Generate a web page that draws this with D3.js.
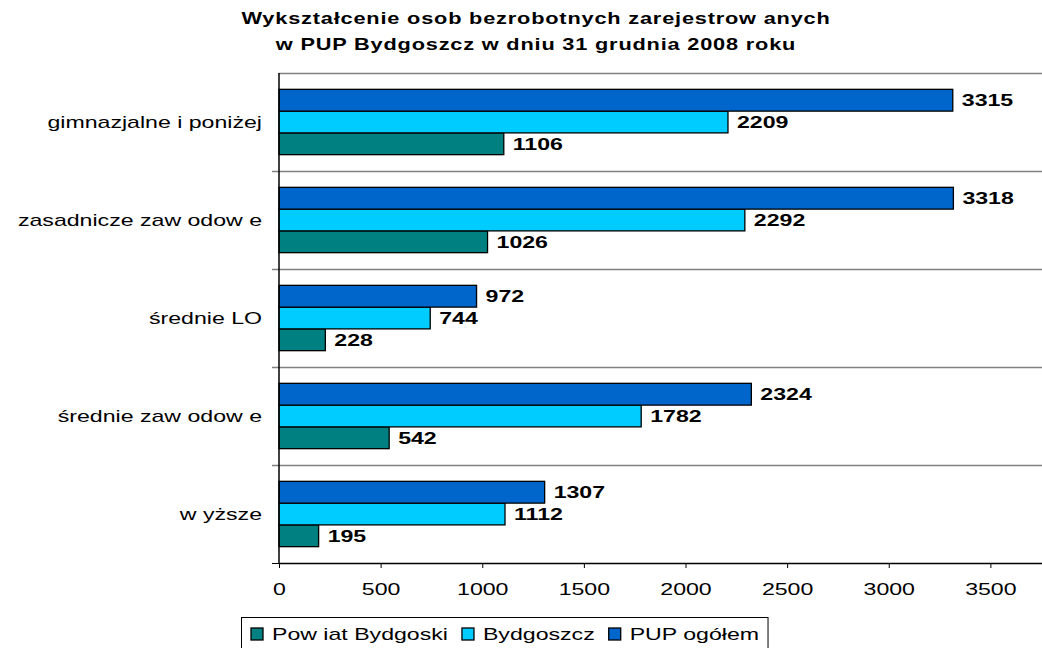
<!DOCTYPE html>
<html lang="pl">
<head>
    <meta charset="UTF-8">
    <title>Wykształcenie osób bezrobotnych</title>
    <script src="https://d3js.org/d3.v7.min.js"></script>
    <style>
        body { margin: 0; padding: 0; background: #ffffff; overflow: hidden; }
        svg { display: block; font-family: Arial, "Liberation Sans", sans-serif; }
    </style>
</head>
<body>
<div id="chart"></div>
<script>
    // categories top to bottom
    const categories = ["gimnazjalne i poniżej", "zasadnicze zaw odow e", "średnie LO", "średnie zaw odow e", "w yższe"];
    // series values in the same order as categories
    const powiat = [1106, 1026, 228, 542, 195];
    const bydgoszcz = [2209, 2292, 744, 1782, 1112];
    const pupOgolem = [3315, 3318, 972, 2324, 1307];
    const seriesNames = ["Pow iat Bydgoski", "Bydgoszcz", "PUP ogółem"];
    const xTicks = [0, 500, 1000, 1500, 2000, 2500, 3000, 3500];

    const colors = {"Pow iat Bydgoski": "#008080", "Bydgoszcz": "#00ccff", "PUP ogółem": "#0066cc"};

    // the original chart text is drawn horizontally stretched
    const SX = 1.36;
    function stretched(sel, x, y) {
        return sel.attr("transform", `translate(${x},${y}) scale(${SX},1)`);
    }

    const W = 1042, H = 648;
    const svg = d3.select("#chart").append("svg")
        .attr("width", W).attr("height", H);

    // title
    const t1 = svg.append("text").attr("text-anchor", "middle")
        .attr("font-size", 16).attr("font-weight", "bold").attr("letter-spacing", 0.6)
        .text("Wykształcenie osob bezrobotnych zarejestrow anych");
    stretched(t1, 536, 24);
    const t2 = svg.append("text").attr("text-anchor", "middle")
        .attr("font-size", 16).attr("font-weight", "bold").attr("letter-spacing", 0.6)
        .text("w PUP Bydgoszcz w dniu 31 grudnia 2008 roku");
    stretched(t2, 536, 50);

    const x = d3.scaleLinear().domain([0, 4000]).range([279, 1092]);
    const y = d3.scaleBand().domain(categories).range([73, 563]);
    // bars inside each category, top to bottom
    const sub = d3.scaleBand().domain(["PUP ogółem", "Bydgoszcz", "Pow iat Bydgoski"])
        .range([0, y.bandwidth()]).paddingInner(0).paddingOuter(0.75);

    const rows = categories.map((c, i) => ({
        cat: c,
        values: {"Pow iat Bydgoski": powiat[i], "Bydgoszcz": bydgoszcz[i], "PUP ogółem": pupOgolem[i]}
    }));

    // separators between categories + top border
    const bounds = categories.map(c => y(c));
    svg.selectAll("line.sep").data(bounds).enter().append("line")
        .attr("class", "sep")
        .attr("x1", (d, i) => i === 0 ? x(0) : 272).attr("x2", W)
        .attr("y1", d => d + 0.5).attr("y2", d => d + 0.5)
        .attr("stroke", "#808080").attr("stroke-width", 1.5);

    // bars
    const groups = svg.selectAll("g.cat").data(rows).enter().append("g")
        .attr("class", "cat")
        .attr("transform", d => `translate(0,${y(d.cat)})`);

    groups.selectAll("rect").data(d => seriesNames.map(s => ({s, v: d.values[s]}))).enter().append("rect")
        .attr("x", x(0))
        .attr("y", d => sub(d.s))
        .attr("width", d => x(d.v) - x(0))
        .attr("height", sub.bandwidth())
        .attr("fill", d => colors[d.s])
        .attr("stroke", "#000").attr("stroke-width", 1.3);

    groups.selectAll("text.val").data(d => seriesNames.map(s => ({s, v: d.values[s]}))).enter().append("text")
        .attr("class", "val")
        .attr("font-size", 17).attr("font-weight", "bold")
        .attr("transform", d => `translate(${x(d.v) + 9},${sub(d.s) + sub.bandwidth() / 2 + 6}) scale(${SX},1)`)
        .text(d => d.v);

    // category labels
    svg.selectAll("text.cat").data(categories).enter().append("text")
        .attr("class", "cat")
        .attr("transform", d => `translate(262,${y(d) + y.bandwidth() / 2 + 6}) scale(${SX},1)`)
        .attr("text-anchor", "end").attr("font-size", 17)
        .text(d => d);

    // left axis line and ticks
    svg.append("line").attr("x1", x(0)).attr("x2", x(0))
        .attr("y1", 73).attr("y2", 563).attr("stroke", "#000").attr("stroke-width", 1.5);
    svg.append("line").attr("x1", 272).attr("x2", x(0))
        .attr("y1", 563.5).attr("y2", 563.5).attr("stroke", "#000");

    // x axis
    const xAxis = svg.append("g").attr("transform", "translate(0,563)")
        .call(d3.axisBottom(x).tickValues(xTicks).tickFormat(d3.format("d"))
            .tickSize(5).tickPadding(14).tickSizeOuter(0));
    xAxis.select(".domain").attr("stroke", "#000").attr("stroke-width", 1.3);
    xAxis.selectAll(".tick line").attr("stroke", "#000");
    xAxis.selectAll(".tick text").attr("font-size", 17).attr("fill", "#000")
        .attr("font-family", "Arial, 'Liberation Sans', sans-serif")
        .attr("y", null).attr("dy", null)
        .attr("transform", `translate(0,32) scale(${SX},1)`);

    // legend
    const legend = svg.append("g");
    const box = legend.append("rect").attr("x", 241.5).attr("y", 617.5)
        .attr("height", 40).attr("fill", "#fff").attr("stroke", "#000");
    let lx = 251;
    seriesNames.forEach(s => {
        legend.append("rect").attr("x", lx).attr("y", 628).attr("width", 12).attr("height", 12)
            .attr("fill", colors[s]).attr("stroke", "#000").attr("stroke-width", 1.3);
        const t = legend.append("text").attr("font-size", 17).text(s);
        stretched(t, lx + 21, 640);
        lx += 21 + t.node().getComputedTextLength() * SX + 14;
    });
    box.attr("width", lx - 14 + 9 - 241.5);
</script>
</body>
</html>
